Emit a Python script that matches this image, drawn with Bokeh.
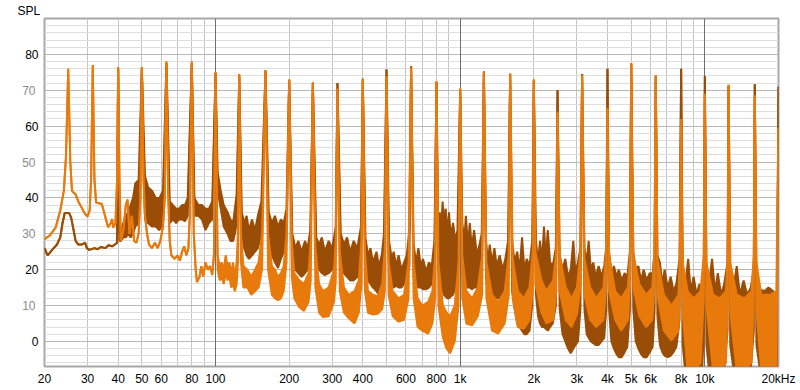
from bokeh.plotting import figure
from bokeh.models import FixedTicker, Range1d, Grid, LinearAxis
from bokeh.embed import file_html
from bokeh.resources import INLINE

BROWN = "#9a4d06"
ORANGE = "#e87a0c"

# ---- data (frequency Hz, SPL dB) ----
PEAK_FREQS = [25, 31.5, 40, 50, 63, 80, 100, 125, 160, 200, 250, 315, 400, 500, 630,
              800, 1000, 1250, 1600, 2000, 2500, 3150, 4000, 5000, 6300, 8000, 10000,
              12500, 16000, 20000]
ORANGE_PEAKS = [76, 77, 76.5, 76.5, 78, 78, 75, 74.5, 75.5, 73, 72.2, 70.5, 73.3, 74, 76.3,
                72.5, 70.5, 75, 74.7, 73, 64, 74.2, 65, 77.6, 74.2, 62, 69,
                71.5, 68.5, 59.5]
BROWN_PEAK_FREQS = PEAK_FREQS[2:]
BROWN_PEAKS = [76, 76, 77.5, 77.5, 74.8, 74, 75.5, 72.8, 72, 72, 73, 75.8, 76.7,
               72.3, 70.3, 75.2, 74.5, 72.8, 70, 74.5, 76, 77.4, 74, 76, 74,
               71.2, 71.7, 71]

# single-line part of the orange trace (f, dB)
ORANGE_LINE = [(20, 28.5), (21, 29.5), (22.2, 31.7), (23.2, 36.5), (24.0, 42), (24.5, 52),
               (25.5, 50), (25.9, 42), (26.3, 41.5), (26.8, 41), (27.5, 39), (28.5, 37),
               (29.3, 35.5), (30.0, 34.8), (30.6, 36.5), (31.0, 45), (32.0, 45), (32.5, 38.7),
               (34.3, 38.3), (35.5, 34.5), (36.4, 31.8), (37.3, 33), (37.8, 34.1), (38.2, 31.7),
               (39.0, 33), (39.6, 45), (40.5, 45), (41, 28), (42, 31), (43, 38), (43.7, 39.5),
               (44.5, 30), (45.5, 35), (46.5, 28), (47.5, 27.5), (48.5, 30), (49.3, 40),
               (50.8, 45), (51.5, 35), (52.5, 30), (53.5, 27), (55, 26), (56.5, 27.5),
               (58, 26), (59.5, 28), (61, 32), (62, 40), (64, 42), (65, 28), (66, 24),
               (68, 23), (70, 24), (71.5, 22.5), (73, 25), (74.5, 26.5), (76, 24),
               (77.5, 26), (78.5, 35), (81.5, 30), (83, 20), (84, 16.5), (86, 18),
               (87.5, 21), (89, 18), (91, 22), (93, 20), (95, 21), (97, 18.5), (98.5, 24)]

# noisy part of the orange trace (f, upper dB, lower dB)
ORANGE_BAND = [(102, 24, 20), (104, 21, 17), (106, 22, 18), (108, 20, 16), (110, 24, 19),
               (112, 21, 17), (114, 22, 18), (116, 19, 15), (118, 22, 16), (120, 18, 14),
               (122, 22, 16), (123.5, 30, 22),
               (127, 30, 22), (130, 21, 15), (135, 20, 15), (140, 18, 13), (145, 20, 14),
               (150, 22, 15), (155, 30, 20),
               (164, 30, 20), (170, 21, 13), (175, 20, 12), (180, 18, 11.5), (185, 19, 12),
               (190, 21, 14), (195, 30, 22),
               (205, 28, 18), (210, 19, 12), (220, 17, 9.5), (230, 16, 8.5), (240, 19, 11),
               (245, 28, 17),
               (256, 26, 15), (265, 16, 8), (275, 14, 6.8), (290, 15, 7), (305, 20, 11),
               (310, 28, 17),
               (322, 25, 14), (335, 15, 8), (350, 13, 6.5), (370, 14, 5), (385, 17, 8),
               (395, 28, 16),
               (408, 25, 14), (420, 14, 8), (440, 13, 7.5), (460, 12.5, 7.7), (480, 16, 9),
               (492, 26, 14),
               (510, 22, 13), (530, 14, 7), (560, 12, 5.5), (590, 13, 6), (615, 22, 12),
               (645, 22, 12), (670, 12, 4), (700, 10, 3), (740, 11, 2.2), (770, 14, 5),
               (790, 24, 12),
               (815, 22, 10), (850, 10, 1), (880, 8, -2), (910, 7, -3.3), (950, 10, 0),
               (985, 22, 10),
               (1020, 24, 12), (1060, 14, 5), (1120, 12, 4.5), (1180, 15, 7), (1230, 24, 13),
               (1280, 22, 12), (1350, 13, 3), (1430, 11, 2.2), (1520, 14, 5), (1580, 24, 13),
               (1640, 23, 12), (1720, 14, 4), (1820, 12, 3.5), (1920, 15, 6), (1980, 25, 14),
               (2030, 25, 16), (2150, 17, 8), (2250, 14, 5), (2400, 17, 6), (2470, 25, 14),
               (2550, 24, 14), (2700, 15, 6), (2850, 12, 4), (3000, 15, 7.7), (3100, 25, 15),
               (3220, 23, 13), (3400, 15, 6), (3600, 12, 4), (3850, 15, 6), (3950, 25, 15),
               (4060, 24, 14), (4300, 14, 6), (4550, 12, 3), (4850, 15, 6), (4950, 25, 16),
               (5100, 24, 15), (5400, 16, 7), (5750, 13, 4), (6100, 15, 6), (6220, 25, 15),
               (6400, 23, 13), (6800, 13, 3), (7300, 10, 0.3), (7800, 13, 3), (7900, 24, 14),
               (8120, 22, 8), (8500, 14, -8), (9000, 12, -8), (9600, 14, -6), (9900, 24, 12),
               (10150, 22, 10), (10800, 13, -8), (11500, 12, -8), (12200, 14, -6),
               (12400, 24, 12),
               (12700, 22, 8), (13500, 13, -8), (14500, 12, -8), (15500, 14, -6),
               (15850, 24, 12),
               (16250, 22, 9), (17000, 13, -8), (18500, 13, -8), (19600, 14, -8)]

# single-line part of the brown trace (f, dB)
BROWN_LINE = [(20, 26), (20.6, 24), (21.5, 25.5), (22.5, 27), (23.2, 29), (23.7, 33),
              (24.2, 35.8), (25.2, 35.8), (25.7, 34.5), (26.3, 31), (26.8, 28), (27.5, 27),
              (28.5, 27), (29.3, 27.5), (29.8, 26), (30.5, 25.5), (32, 26), (33, 25.7),
              (34, 26.3), (35.5, 26), (36.5, 26.8), (37.8, 26.5), (38.8, 27), (39.6, 27.5)]

# noisy part of the brown trace (f, upper dB, lower dB)
BROWN_BAND = [(40.5, 30, 28), (41, 31, 28), (42, 33, 29), (43, 35, 29), (44, 36, 30),
              (45, 38, 29), (46, 40, 30), (47, 44, 32), (48.5, 45, 33),
              (51.5, 46, 34), (53, 43, 33), (55, 42, 32), (57, 40, 32), (59, 40, 31),
              (61, 42, 33),
              (65, 39, 33), (67, 38, 34), (69, 37, 33), (71, 37, 34), (73, 38, 34),
              (75, 38, 33.5), (77, 40, 35),
              (82, 40, 35), (85, 38, 35), (88, 38, 34), (91, 37, 31), (94, 37, 33),
              (97, 39, 34),
              (102, 47, 42), (105, 42, 37), (108, 38, 32), (112, 36, 30), (115, 34, 28),
              (118, 33, 28), (120, 37, 30), (122, 41, 33),
              (128, 36, 30), (131, 33, 26), (134, 35, 24), (137, 31, 23), (141, 34, 24),
              (145, 31, 25), (149, 35, 26), (154, 39, 30),
              (165, 36, 28), (170, 33, 24), (175, 35, 22), (180, 32, 20.5), (185, 34, 23),
              (190, 33, 25), (195, 37, 28),
              (206, 30, 23), (212, 26, 20), (218, 28, 19), (225, 25, 18), (232, 28, 19),
              (238, 26, 20), (244, 31, 24),
              (258, 29, 22), (265, 27, 20), (272, 29, 19), (280, 25, 18.5), (290, 28, 19),
              (300, 26, 20), (310, 32, 25),
              (325, 30, 22), (335, 27, 19), (345, 29, 18), (355, 25, 17), (367, 28, 17),
              (380, 26, 18), (393, 32, 24),
              (410, 29, 20), (420, 24, 17), (430, 26, 16), (440, 22, 15), (455, 25, 14),
              (465, 21, 13), (478, 24, 16), (488, 30, 20),
              (512, 28, 19), (525, 23, 16), (535, 25, 15), (548, 21, 15.5), (560, 24, 15),
              (575, 20, 15), (590, 22, 16), (605, 24, 17), (620, 31, 21),
              (645, 27, 18), (660, 22, 16), (675, 26, 15), (690, 21, 15), (705, 23, 14.5),
              (725, 19.5, 14.5), (745, 22, 15), (765, 21, 16), (785, 28, 20),
              (812, 33, 20), (825, 36, 17), (835, 31, 15), (848, 39, 14), (858, 33, 13),
              (872, 37, 12.5), (885, 30, 12), (900, 36, 12), (915, 29, 12.5), (935, 33, 13),
              (955, 28, 15), (975, 31, 18),
              (1020, 33, 19), (1040, 28, 16), (1055, 35, 15), (1075, 27, 15), (1095, 33, 15),
              (1115, 26, 14.5), (1140, 31, 15), (1170, 24, 15), (1200, 27, 16),
              (1225, 30, 19),
              (1275, 28, 17), (1300, 22, 14), (1320, 27, 13), (1350, 22, 12), (1380, 26, 12),
              (1410, 21, 12), (1450, 24, 12), (1490, 20, 13), (1530, 23, 14), (1570, 28, 18),
              (1630, 28, 14), (1670, 22, 9), (1710, 25, 5), (1750, 20, 4), (1790, 29, 3),
              (1830, 20, 2), (1870, 23, 2), (1920, 21, 3), (1970, 28, 10),
              (2040, 28, 13), (2080, 22, 7), (2120, 28, 5), (2160, 22, 4), (2200, 32, 4),
              (2240, 23, 3.5), (2280, 31, 3), (2330, 22, 4), (2390, 21, 5), (2460, 26, 10),
              (2550, 24, 9), (2620, 20, 2), (2690, 23, 0), (2760, 18, -2), (2830, 20, -3.3),
              (2900, 28, -2), (2960, 19, -1), (3030, 22, 0), (3100, 26, 9),
              (3220, 26, 9), (3290, 22, 2), (3350, 28, 1), (3420, 20, 0), (3500, 22, -0.5),
              (3580, 18, -1), (3680, 21, -1), (3780, 18, 0), (3880, 21, 1), (3950, 26, 9),
              (4060, 25, 9), (4150, 19, 0), (4250, 21, -2), (4350, 18, -3.5),
              (4450, 20, -4.4), (4570, 17, -4.4), (4700, 19, -3), (4820, 18, -1.5),
              (4940, 25, 9),
              (5100, 25, 9), (5220, 20, 0), (5350, 21, -2), (5480, 17, -3.5), (5620, 20, -4.4),
              (5780, 17, -4.4), (5950, 19, -3), (6120, 19, -1.5), (6230, 25, 9),
              (6400, 24, 7), (6550, 22, -1), (6700, 16, -3), (6850, 20, -4), (7050, 15, -4.4),
              (7250, 18, -4), (7450, 14, -3), (7650, 16, -1.5), (7880, 23, 6),
              (8120, 20, -1), (8300, 15, -8), (8550, 23, -8), (8750, 14, -8), (9000, 18, -8),
              (9250, 13, -8), (9500, 16, -8), (9750, 14, -8), (9900, 22, 3),
              (10150, 20, -1), (10400, 16, -8), (10700, 23, -8), (11000, 14, -8),
              (11300, 19, -8), (11650, 13, -8), (12000, 16, -8), (12380, 22, 3),
              (12700, 20, -1), (13100, 15, -8), (13500, 21, -8), (13900, 13, -8),
              (14400, 17, -8), (14900, 13, -8), (15400, 15, -8), (15850, 20, 3),
              (16250, 16, -1), (16800, 14.5, -8), (17500, 14, -8), (18200, 15, -8),
              (19000, 14, -8), (19700, 13, -8)]

X_TICKS = [20, 30, 40, 50, 60, 80, 100, 200, 300, 400, 600, 800, 1000, 2000, 3000, 4000,
           5000, 6000, 8000, 10000, 20000]
X_TICK_LABELS = ["20", "30", "40", "50", "60", "80", "100", "200", "300", "400", "600",
                 "800", "1k", "2k", "3k", "4k", "5k", "6k", "8k", "10k", "20kHz"]
X_GRID = [30, 40, 50, 60, 70, 80, 90, 200, 300, 400, 500, 600, 700, 800, 900,
          2000, 3000, 4000, 5000, 6000, 7000, 8000, 9000, 20000]
X_DECADES = [100, 1000, 10000]
Y_GRID = [0, 10, 20, 30, 40, 50, 60, 70, 80]
Y_LABELS_DARK = [0, 20, 40, 60, 80]
Y_LABELS_LIGHT = [10, 30, 50, 70]
Y_MINOR = [-6, -4, -2, 2, 4, 6, 8, 12, 14, 16, 18, 22, 24, 26, 28, 32, 34, 36, 38, 42, 44,
           46, 48, 52, 54, 56, 58, 62, 64, 66, 68, 72, 74, 76, 78, 82, 84, 86, 88]


def build(line_pts, band_pts, peak_f, peak_db):
    rows = [(f, v, v) for f, v in line_pts]
    rows += list(band_pts)
    rows += [(f, v, v) for f, v in zip(peak_f, peak_db)]
    rows.sort(key=lambda r: r[0])
    return ([r[0] for r in rows], [r[1] for r in rows], [r[2] for r in rows])


FONT = "Liberation Sans"

p = figure(width=800, height=390, x_axis_type="log",
           x_range=Range1d(20, 20000), y_range=Range1d(-7, 90),
           output_backend="svg", toolbar_location=None,
           min_border_left=44, min_border_right=22, min_border_top=17,
           min_border_bottom=24, background_fill_color="white",
           border_fill_color="white")

p.title.text = "SPL"
p.title.align = "left"
p.title.offset = -27
p.title.standoff = 2
p.title.text_font = FONT
p.title.text_font_size = "12px"
p.title.text_font_style = "normal"
p.title.text_color = "#000000"

p.outline_line_color = "#a8a8a8"
p.outline_line_width = 2

# grids
p.ygrid.ticker = FixedTicker(ticks=Y_GRID, minor_ticks=Y_MINOR)
p.ygrid.grid_line_color = "#b8b8b8"
p.ygrid.minor_grid_line_color = "#dedede"
p.xgrid.ticker = FixedTicker(ticks=X_GRID)
p.xgrid.grid_line_color = "#c4c4c4"
dec_grid = Grid(dimension=0, ticker=FixedTicker(ticks=X_DECADES),
                grid_line_color="#6e6e6e", grid_line_width=1)
p.center.append(dec_grid)

# x axis
xa = p.xaxis[0]
xa.ticker = FixedTicker(ticks=X_TICKS)
xa.major_label_overrides = {t: s for t, s in zip(X_TICKS, X_TICK_LABELS)}
xa.axis_line_color = None
xa.major_tick_line_color = None
xa.minor_tick_line_color = None
xa.major_tick_out = 0
xa.major_label_text_font = FONT
xa.major_label_text_font_size = "12px"
xa.major_label_text_color = "#000000"
xa.major_label_standoff = 5

# y axes: dark labels (inner) and light labels (outer, pulled back into same column)
ya = p.yaxis[0]
ya.ticker = FixedTicker(ticks=Y_LABELS_DARK)
ya2 = LinearAxis(ticker=FixedTicker(ticks=Y_LABELS_LIGHT))
p.add_layout(ya2, "left")
for ax, col, so in [(ya, "#000000", 6), (ya2, "#8c8c8c", -13)]:
    ax.axis_line_color = None
    ax.major_tick_line_color = None
    ax.minor_tick_line_color = None
    ax.major_tick_out = 0
    ax.major_tick_in = 0
    ax.minor_tick_out = 0
    ax.major_label_text_font = FONT
    ax.major_label_text_font_size = "12px"
    ax.major_label_text_color = col
    ax.major_label_standoff = so

# brown (drawn first), orange on top
for line_pts, band_pts, pf, pdb, col in [
        (BROWN_LINE, BROWN_BAND, BROWN_PEAK_FREQS, BROWN_PEAKS, BROWN),
        (ORANGE_LINE, ORANGE_BAND, PEAK_FREQS, ORANGE_PEAKS, ORANGE)]:
    f, hi, lo = build(line_pts, band_pts, pf, pdb)
    p.varea(x=f, y1=lo, y2=hi, fill_color=col, fill_alpha=1.0)
    p.line(f, hi, line_color=col, line_width=2)
    p.line(f, lo, line_color=col, line_width=2)

open("out.html", "w").write(file_html(p, INLINE))
